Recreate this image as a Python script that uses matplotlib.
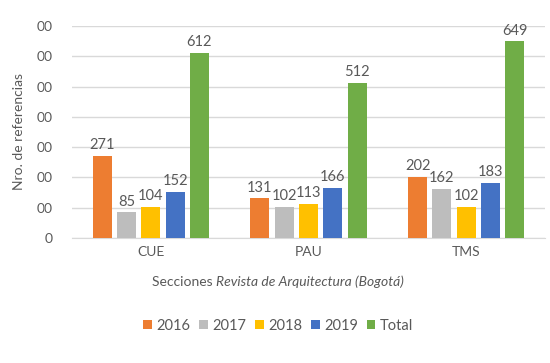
import numpy as np
from matplotlib import pyplot as plt

secciones = ['CUE', 'PAU', 'TMS']
series = ['2016', '2017', '2018', '2019', 'Total']
v2016 = [271, 131, 202]
v2017 = [85, 102, 162]
v2018 = [104, 113, 102]
v2019 = [152, 166, 183]
vtotal = [612, 512, 649]
yticks = [0, 100, 200, 300, 400, 500, 600, 700]
ytick_labels = ['0', '00', '00', '00', '00', '00', '00', '00']

colores = ['#ED7D31', '#BDBDBD', '#FFC000', '#4472C4', '#70AD47']
gris = '#595959'
plt.rcParams['font.family'] = ['Lato', 'DejaVu Sans']

fig = plt.figure(figsize=(5.5, 3.63), dpi=100)
ax = fig.add_axes([72/550, 1-238/363, 473/550, 212/363])

x = np.arange(len(secciones))
w = 0.12
paso = 0.154
datos = [v2016, v2017, v2018, v2019, vtotal]
for i, (vals, c, lab) in enumerate(zip(datos, colores, series)):
    pos = x + (i-2)*paso
    ax.bar(pos, vals, w, color=c, label=lab, zorder=3)
    for p, v in zip(pos, vals):
        ax.text(p, v+12, str(v), ha='center', va='bottom', fontsize=10.5, color=gris)

ax.set_xlim(-0.5, 2.5)
ax.set_ylim(0, 700)
ax.set_yticks(yticks)
ax.set_yticklabels(ytick_labels)
ax.set_xticks(x)
ax.set_xticklabels(secciones)
ax.grid(axis='y', color='#D9D9D9', linewidth=1, zorder=0)
for s in ['top', 'right', 'left']:
    ax.spines[s].set_visible(False)
ax.spines['bottom'].set_color('#D9D9D9')
ax.tick_params(axis='both', length=0, labelsize=10, colors=gris)
ax.tick_params(axis='y', pad=14)
ax.tick_params(axis='x', pad=6)
ax.set_ylabel('Nro. de referencias', fontsize=10, color=gris, labelpad=8)

# x label with italic part
partes = [('Secciones ', 'normal'), ('Revista de Arquitectura (Bogotá)', 'italic')]
fig.canvas.draw()
r = fig.canvas.get_renderer()
xpos = 152
for txt, st in partes:
    t = fig.text(xpos/550, 1-282/363, txt, fontsize=10, style=st, color=gris,
                 ha='left', va='center')
    xpos += t.get_window_extent(r).width

fig.legend(loc='center', bbox_to_anchor=(278/550, 1-326/363), ncol=5, frameon=False,
           fontsize=10.5, handlelength=0.6, handleheight=0.6, handletextpad=0.3,
           columnspacing=0.6, labelcolor=gris)

fig.savefig('out.png', dpi=100)
